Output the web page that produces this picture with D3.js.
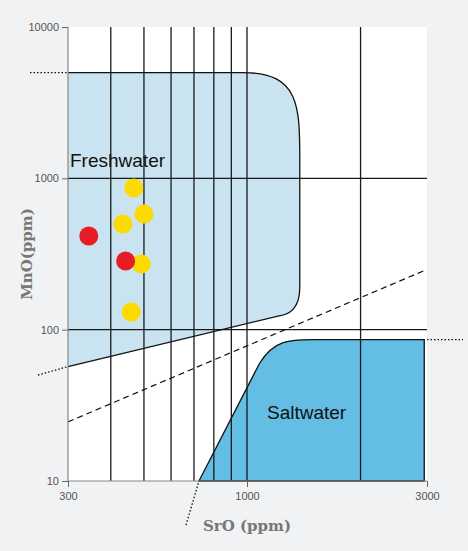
<!DOCTYPE html>
<html>
<head>
<meta charset="utf-8">
<script src="https://cdn.jsdelivr.net/npm/d3@7"></script>
<style>
  body { margin: 0; background: #f1f2f4; }
  svg { display: block; }
</style>
</head>
<body>
<div id="chart"></div>
<script>
const xTicks = [300, 1000, 3000];
const yTicks = [10, 100, 1000, 10000];
const xGrid = [400, 500, 600, 700, 800, 900, 1000, 2000];
const yGrid = [100, 1000];

// measured samples [SrO, MnO]
const redPoints = [[345, 416], [442, 284]];
const yellowPoints = [[467, 863], [434, 499], [500, 581], [491, 272], [459, 131]];

// field outlines [SrO, MnO]
const freshTop = 5000;
const freshLower = [[300, 57], [1224, 124]];
const freshRight = 1380;
const saltTop = 86;
const saltLeft = [[724, 10], [1080, 60]];
const saltRight = 2950;
const divider = [[300, 24.6], [3000, 250]];

const W = 468, H = 551;
const svg = d3.select('#chart').append('svg').attr('width', W).attr('height', H);

const x = d3.scaleLog().domain([300, 1000, 3000]).range([68, 247, 427]);
const y = d3.scaleLog().domain([10, 10000]).range([481, 27]);

svg.append('rect')
  .attr('x', x(300)).attr('y', y(10000))
  .attr('width', x(3000) - x(300)).attr('height', y(10) - y(10000))
  .attr('fill', '#fff');

// freshwater field
const fp = d3.path();
fp.moveTo(x(300), y(freshTop));
fp.lineTo(x(1000) - 4, y(freshTop));
fp.bezierCurveTo(x(freshRight), y(freshTop), x(freshRight), y(3000), x(freshRight), y(1300));
fp.lineTo(x(freshRight), y(190));
fp.bezierCurveTo(x(freshRight), y(140), x(1300), y(126), x(freshLower[1][0]), y(freshLower[1][1]));
fp.lineTo(x(freshLower[0][0]), y(freshLower[0][1]));
fp.closePath();
svg.append('path').attr('d', fp.toString())
  .attr('fill', '#cae3f0').attr('stroke', 'none');

// saltwater field
const sp = d3.path();
sp.moveTo(x(saltLeft[0][0]), y(saltLeft[0][1]));
sp.lineTo(x(saltLeft[1][0]), y(saltLeft[1][1]));
sp.bezierCurveTo(x(1180), y(saltTop), x(1300), y(saltTop), x(1500), y(saltTop));
sp.lineTo(x(saltRight), y(saltTop));
sp.lineTo(x(saltRight), y(10));
sp.closePath();
svg.append('path').attr('d', sp.toString())
  .attr('fill', '#64bde2').attr('stroke', '#111').attr('stroke-width', 1.3);

// grid
svg.append('g').selectAll('line').data(xGrid).join('line')
  .attr('x1', d => x(d)).attr('x2', d => x(d))
  .attr('y1', y(10000)).attr('y2', y(10))
  .attr('stroke', '#1a1a1a').attr('stroke-width', 1.3);
svg.append('g').selectAll('line').data(yGrid).join('line')
  .attr('x1', x(300)).attr('x2', x(3000))
  .attr('y1', d => y(d)).attr('y2', d => y(d))
  .attr('stroke', '#1a1a1a').attr('stroke-width', 1.3);

// freshwater outline (drawn over grid)
const fo = d3.path();
fo.moveTo(x(300), y(freshTop));
fo.lineTo(x(1000) - 4, y(freshTop));
fo.bezierCurveTo(x(freshRight), y(freshTop), x(freshRight), y(3000), x(freshRight), y(1300));
fo.lineTo(x(freshRight), y(190));
fo.bezierCurveTo(x(freshRight), y(140), x(1300), y(126), x(freshLower[1][0]), y(freshLower[1][1]));
fo.lineTo(x(freshLower[0][0]), y(freshLower[0][1]));
svg.append('path').attr('d', fo.toString())
  .attr('fill', 'none').attr('stroke', '#111').attr('stroke-width', 1.3);

// dashed divider
svg.append('line')
  .attr('x1', x(divider[0][0])).attr('y1', y(divider[0][1]))
  .attr('x2', x(divider[1][0])).attr('y2', y(divider[1][1]))
  .attr('stroke', '#111').attr('stroke-width', 1.2).attr('stroke-dasharray', '6,4');

// dotted extensions outside the plot
const dot = (x1, y1, x2, y2) => svg.append('line')
  .attr('x1', x1).attr('y1', y1).attr('x2', x2).attr('y2', y2)
  .attr('stroke', '#111').attr('stroke-width', 1.3).attr('stroke-dasharray', '1.5,2');
dot(30, y(freshTop), x(300), y(freshTop));
dot(38, 375, x(300), y(freshLower[0][1]));
dot(x(3000), y(saltTop), 463, y(saltTop));
dot(186, 525, x(saltLeft[0][0]), y(10));

// axes
const xAxis = svg.append('g').attr('transform', `translate(0,${y(10)})`)
  .call(d3.axisBottom(x).tickValues(xTicks).tickFormat(d3.format('d')).tickSize(6));
const yAxis = svg.append('g').attr('transform', `translate(${x(300)},0)`)
  .call(d3.axisLeft(y).tickValues(yTicks).tickFormat(d3.format('d')).tickSize(6));
[xAxis, yAxis].forEach(a => {
  a.select('.domain').attr('stroke', '#888').attr('stroke-width', 1.2);
  a.selectAll('.tick line').attr('stroke', '#666');
  a.selectAll('.tick text').attr('fill', '#555').style('font', '11px "Liberation Sans", Arial, sans-serif');
});
xAxis.select('.domain').attr('d', `M${x(300)},0H${x(3000)}`);
xAxis.selectAll('.tick text').attr('dy', '0.9em');
yAxis.select('.domain').attr('d', `M0,${y(10)}V${y(10000)}`);

// samples
svg.append('g').selectAll('circle').data(yellowPoints).join('circle')
  .attr('cx', d => x(d[0])).attr('cy', d => y(d[1])).attr('r', 9.5).attr('fill', '#fddb00');
svg.append('g').selectAll('circle').data(redPoints).join('circle')
  .attr('cx', d => x(d[0])).attr('cy', d => y(d[1])).attr('r', 9.5).attr('fill', '#e81c24');

// labels
svg.append('text').attr('x', 70).attr('y', 167).text('Freshwater')
  .style('font', '19px "Liberation Sans", Arial, sans-serif').attr('fill', '#111');
svg.append('text').attr('x', 267).attr('y', 419).text('Saltwater')
  .style('font', '19px "Liberation Sans", Arial, sans-serif').attr('fill', '#111');

svg.append('text').attr('x', 247).attr('y', 531).attr('text-anchor', 'middle').text('SrO (ppm)')
  .style('font', 'bold 15px "DejaVu Serif", serif').attr('fill', '#777');
svg.append('text').attr('transform', 'translate(32,254) rotate(-90)').attr('text-anchor', 'middle').text('MnO(ppm)')
  .style('font', 'bold 15px "DejaVu Serif", serif').attr('fill', '#777');
</script>
</body>
</html>
